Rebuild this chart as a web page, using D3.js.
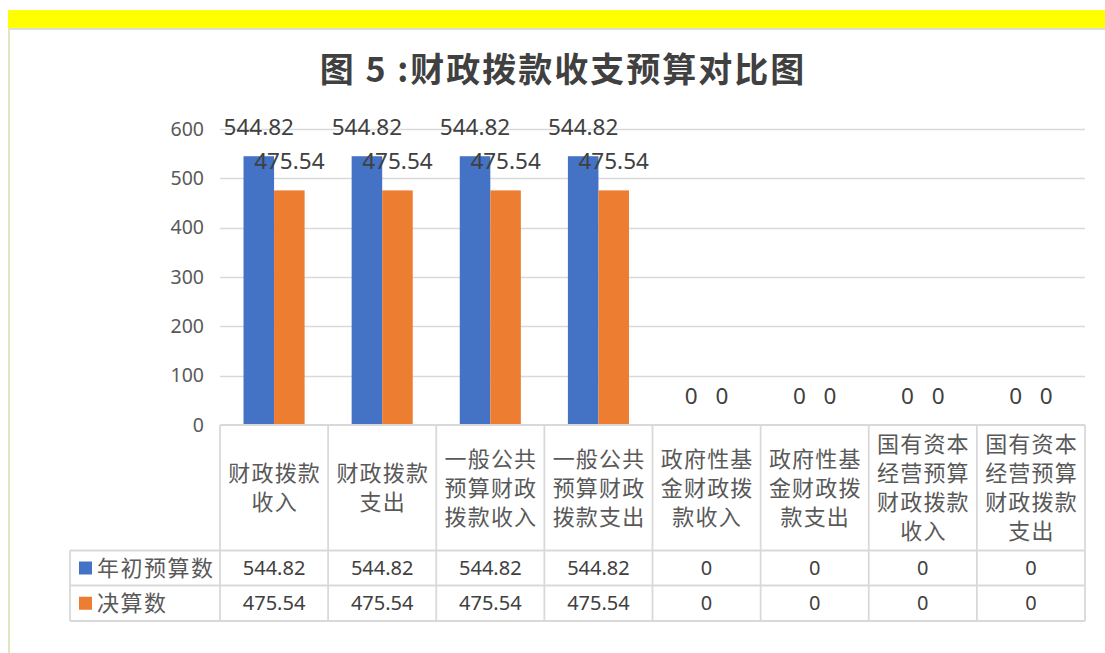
<!DOCTYPE html>
<html>
<head>
<meta charset="utf-8">
<script src="https://cdn.jsdelivr.net/npm/d3@7"></script>
<style>
  body { margin: 0; background: #fff; }
  text { font-family: "Noto Sans", "Noto Sans CJK SC", sans-serif; }
</style>
</head>
<body>
<div id="chart"></div>
<script>
// Data
const categories = ["财政拨款收入", "财政拨款支出", "一般公共预算财政拨款收入", "一般公共预算财政拨款支出",
    "政府性基金财政拨款收入", "政府性基金财政拨款支出", "国有资本经营预算财政拨款收入", "国有资本经营预算财政拨款支出"];
const categoryLines = [
    ["财政拨款", "收入"], ["财政拨款", "支出"],
    ["一般公共", "预算财政", "拨款收入"], ["一般公共", "预算财政", "拨款支出"],
    ["政府性基", "金财政拨", "款收入"], ["政府性基", "金财政拨", "款支出"],
    ["国有资本", "经营预算", "财政拨款", "收入"], ["国有资本", "经营预算", "财政拨款", "支出"]
];
const seriesNames = ["年初预算数", "决算数"];
const budgetValues = [544.82, 544.82, 544.82, 544.82, 0, 0, 0, 0];
const finalValues = [475.54, 475.54, 475.54, 475.54, 0, 0, 0, 0];
const yTicks = [0, 100, 200, 300, 400, 500, 600];
const colors = ["#4472c4", "#ed7d31"];

const width = 1105, height = 653;
const plot = {left: 220, right: 1085, top: 129, bottom: 425};
const tableRows = [425, 550.5, 585.5, 621];
const gridColor = "#d9d9d9";

const svg = d3.select("#chart").append("svg")
    .attr("width", width)
    .attr("height", height);

// Page frame: yellow band and pale edges
svg.append("rect").attr("x", 8).attr("y", 10).attr("width", width - 8).attr("height", 18).attr("fill", "#ffff00");
svg.append("rect").attr("x", 10).attr("y", 28).attr("width", width - 10).attr("height", 2).attr("fill", "#dcdcdc");
svg.append("rect").attr("x", 8).attr("y", 28).attr("width", 2).attr("height", height - 28).attr("fill", "#e4e4c0");

// Title
svg.append("text")
    .attr("x", 563)
    .attr("y", 82)
    .attr("text-anchor", "middle")
    .style("font-family", "'Noto Sans CJK SC', sans-serif")
    .style("font-size", "34px")
    .style("font-weight", "bold")
    .style("letter-spacing", "2px")
    .attr("fill", "#404040")
    .text("图 5 :财政拨款收支预算对比图");

// Scales
const x0 = d3.scaleBand()
    .domain(categories)
    .range([plot.left, plot.right])
    .paddingInner(0)
    .paddingOuter(0);
const x1 = d3.scaleBand()
    .domain(seriesNames)
    .range([0, x0.bandwidth()])
    .paddingInner(0)
    .paddingOuter(0.77);
const y = d3.scaleLinear()
    .domain([0, 600])
    .range([plot.bottom, plot.top]);

// Gridlines
svg.append("g")
    .selectAll("line")
    .data(yTicks.filter(d => d > 0))
    .enter()
    .append("line")
    .attr("x1", plot.left)
    .attr("x2", plot.right)
    .attr("y1", d => Math.round(y(d)) + 0.5)
    .attr("y2", d => Math.round(y(d)) + 0.5)
    .attr("stroke", gridColor)
    .attr("stroke-width", 1.3);

// Y axis labels
const yAxis = svg.append("g")
    .attr("transform", `translate(${plot.left}, 0)`)
    .call(d3.axisLeft(y).tickValues(yTicks).tickSize(0).tickPadding(16));
yAxis.select(".domain").remove();
yAxis.selectAll("text")
    .style("font-size", "19.5px")
    .attr("fill", "#595959");

// Bars
const series = [budgetValues, finalValues];
const groups = svg.append("g")
    .selectAll("g")
    .data(categories)
    .enter()
    .append("g")
    .attr("transform", d => `translate(${x0(d)}, 0)`);

groups.selectAll("rect")
    .data((d, i) => series.map((s, k) => ({name: seriesNames[k], value: s[i], k})))
    .enter()
    .append("rect")
    .attr("x", d => x1(d.name))
    .attr("y", d => y(d.value))
    .attr("width", x1.bandwidth())
    .attr("height", d => y(0) - y(d.value))
    .attr("fill", d => colors[d.k]);

// Data labels
groups.selectAll("text.label")
    .data((d, i) => series.map((s, k) => ({name: seriesNames[k], value: s[i], k})))
    .enter()
    .append("text")
    .attr("class", "label")
    .attr("x", d => x1(d.name) + x1.bandwidth() / 2)
    .attr("y", d => y(d.value) - 21)
    .attr("text-anchor", "middle")
    .style("font-size", "22.5px")
    .attr("fill", "#404040")
    .text(d => d3.format("")(d.value));

// Data table lines
const table = svg.append("g")
    .attr("stroke", gridColor)
    .attr("stroke-width", 1.8);
table.append("line")
    .attr("x1", plot.left).attr("x2", plot.right)
    .attr("y1", tableRows[0]).attr("y2", tableRows[0]);
tableRows.slice(1).forEach(r => {
    table.append("line")
        .attr("x1", 70).attr("x2", plot.right)
        .attr("y1", r).attr("y2", r);
});
categories.concat([null]).forEach((c, i) => {
    const xx = c === null ? plot.right : x0(c);
    table.append("line")
        .attr("x1", xx).attr("x2", xx)
        .attr("y1", tableRows[0]).attr("y2", tableRows[3]);
});
table.append("line")
    .attr("x1", 70).attr("x2", 70)
    .attr("y1", tableRows[1]).attr("y2", tableRows[3]);

// Category labels
const lineHeight = 29;
categoryLines.forEach((lines, i) => {
    const cx = x0(categories[i]) + x0.bandwidth() / 2;
    const mid = (tableRows[0] + tableRows[1]) / 2;
    const t = svg.append("text")
        .attr("text-anchor", "middle")
        .style("font-family", "'Noto Sans CJK SC', sans-serif")
        .style("font-size", "22px")
        .style("letter-spacing", "1.2px")
        .attr("fill", "#595959");
    lines.forEach((ln, j) => {
        t.append("tspan")
            .attr("x", cx + 0.6)
            .attr("y", mid + (j - (lines.length - 1) / 2) * lineHeight + 8)
            .text(ln);
    });
});

// Legend keys + table values
series.forEach((s, k) => {
    const rowMid = (tableRows[k + 1] + tableRows[k + 2]) / 2;
    svg.append("rect")
        .attr("x", 79).attr("y", rowMid - 6.5)
        .attr("width", 13).attr("height", 13)
        .attr("fill", colors[k]);
    svg.append("text")
        .attr("x", 97).attr("y", rowMid + 8)
        .style("font-family", "'Noto Sans CJK SC', sans-serif")
        .style("font-size", "22px")
        .style("letter-spacing", "1.5px")
        .attr("fill", "#595959")
        .text(seriesNames[k]);
    svg.append("g")
        .selectAll("text")
        .data(s)
        .enter()
        .append("text")
        .attr("x", (d, i) => x0(categories[i]) + x0.bandwidth() / 2)
        .attr("y", rowMid + 7)
        .attr("text-anchor", "middle")
        .style("font-size", "20px")
        .attr("fill", "#404040")
        .text(d => d3.format("")(d));
});
</script>
</body>
</html>
